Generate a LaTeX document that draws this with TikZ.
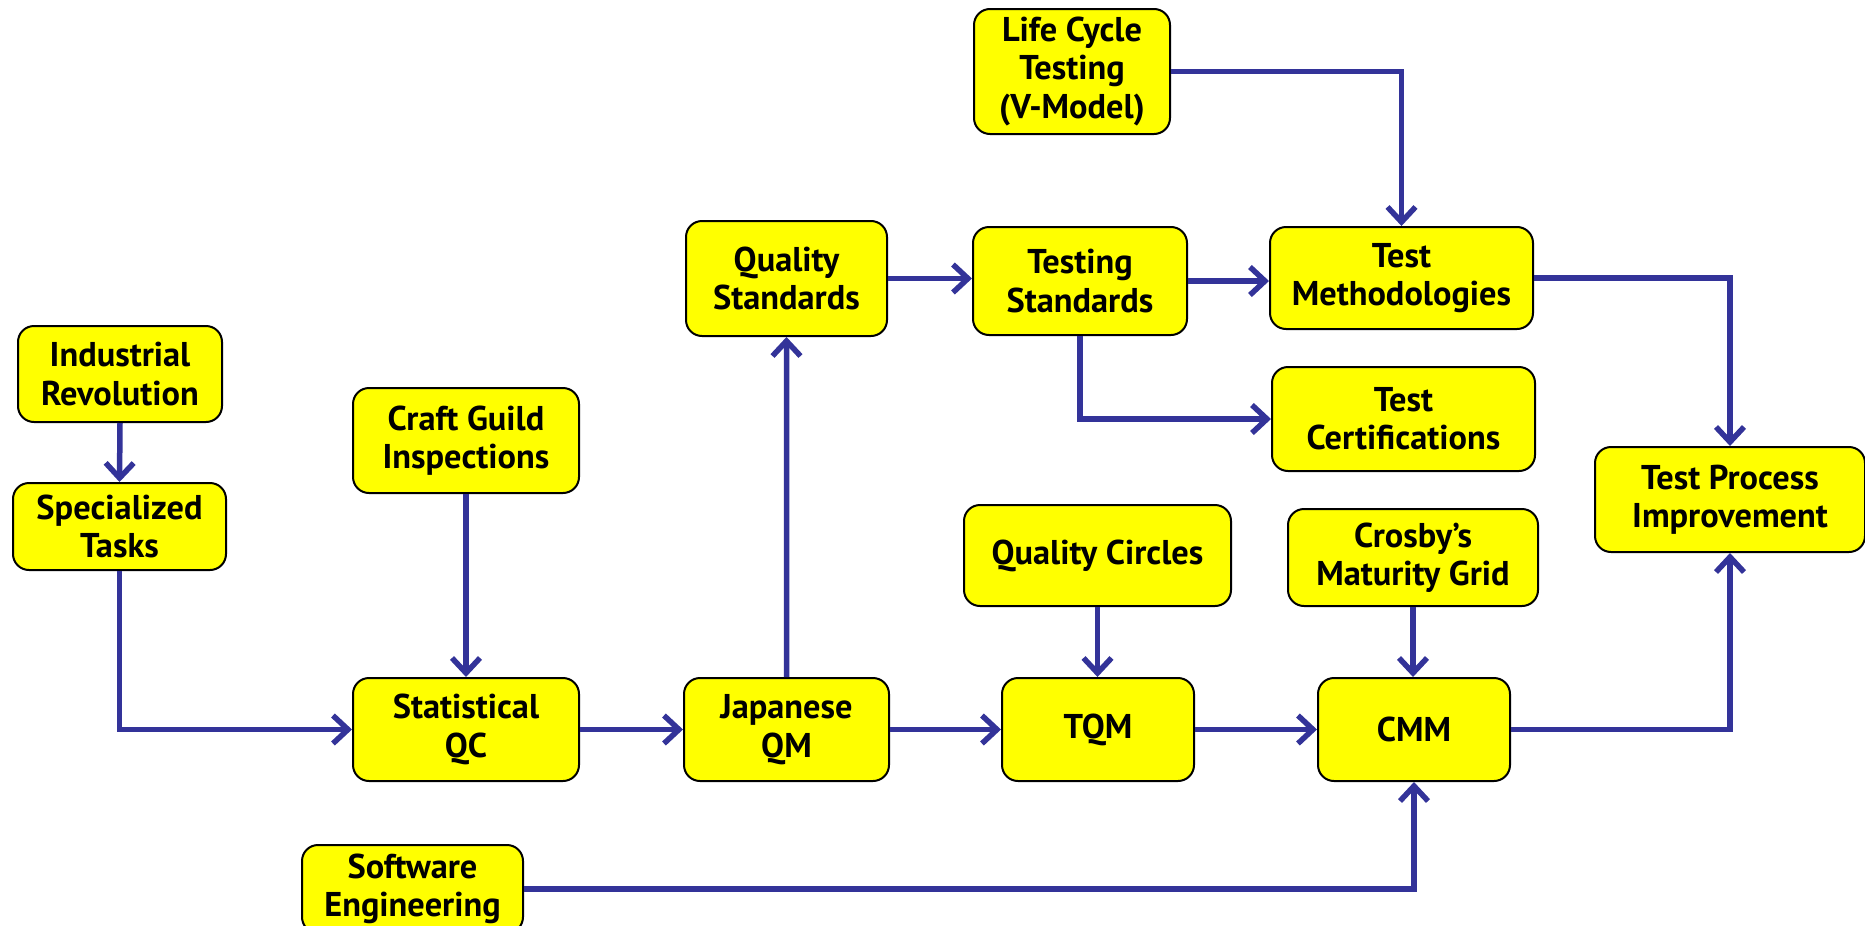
\documentclass[tikz,border=0pt]{standalone}
\usepackage{fontspec}
\setmainfont{PT Sans}
\usetikzlibrary{arrows.meta}
\definecolor{lineblue}{HTML}{333399}
\definecolor{boxyellow}{HTML}{FFFF00}
\begin{document}
\begin{tikzpicture}[x=1bp,y=-1bp,
  bx/.style={draw=black, line width=2bp, fill=boxyellow, rounded corners=16bp,
    align=center, font=\bfseries\fontsize{34.5}{38.5}\selectfont, inner sep=0pt, anchor=north west},
  con/.style={draw=lineblue, line width=5.5bp, -{Straight Barb[length=15bp,width=28bp]}}]
\useasboundingbox (0,0) rectangle (1865,926);
\node[bx, minimum width=204bp, minimum height=96bp] (ir) at (17,325) {Industrial\\Revolution};
\node[bx, minimum width=213bp, minimum height=87bp] (st) at (12,482) {Specialized\\Tasks};
\node[bx, minimum width=226bp, minimum height=105bp] (cg) at (352,387) {Craft Guild\\Inspections};
\node[bx, minimum width=226bp, minimum height=103bp] (sqc) at (352,677) {Statistical\\QC};
\node[bx, minimum width=205bp, minimum height=103bp] (jqm) at (683,677) {Japanese\\QM};
\node[bx, minimum width=201bp, minimum height=115bp] (qs) at (685,220) {Quality\\Standards};
\node[bx, minimum width=214bp, minimum height=108bp] (ts) at (972,226) {Testing\\Standards};
\node[bx, minimum width=263bp, minimum height=102bp] (tm) at (1269,226) {Test\\Methodologies};
\node[bx, minimum width=196bp, minimum height=125bp] (lc) at (973,8) {Life Cycle\\Testing\\(V-Model)};
\node[bx, minimum width=263bp, minimum height=104bp] (tc) at (1271,366) {Test\\Certifications};
\node[bx, minimum width=270bp, minimum height=105bp] (tpi) at (1594,446) {Test Process\\Improvement};
\node[bx, minimum width=267bp, minimum height=101bp] (qc) at (963,504) {Quality Circles};
\node[bx, minimum width=250bp, minimum height=97bp] (cr) at (1287,508) {Crosby’s\\Maturity Grid};
\node[bx, minimum width=192bp, minimum height=103bp] (tqm) at (1001,677) {TQM};
\node[bx, minimum width=192bp, minimum height=103bp] (cmm) at (1317,677) {CMM};
\node[bx, minimum width=221bp, minimum height=88bp] (se) at (301,844) {Software\\Engineering};
\draw[con] (ir.south) -- (st.north);
\draw[con] (st.south) |- (sqc.west);
\draw[con] (cg.south) -- (sqc.north);
\draw[con] (sqc.east) -- (jqm.west);
\draw[con] (jqm.north) -- (qs.south);
\draw[con] (qs.east) -- (qs.east -| ts.west);
\draw[con] (ts.east) -- (ts.east -| tm.west);
\draw[con] (ts.south) |- (tc.west);
\draw[con] (lc.east) -| (tm.north);
\draw[con] (tm.east) -| (tpi.north);
\draw[con] (cmm.east) -| (tpi.south);
\draw[con] (qc.south) -- (qc.south |- tqm.north);
\draw[con] (cr.south) -- (cr.south |- cmm.north);
\draw[con] (jqm.east) -- (tqm.west);
\draw[con] (tqm.east) -- (cmm.west);
\draw[con] (se.east) -| (cmm.south);
\end{tikzpicture}
\end{document}
